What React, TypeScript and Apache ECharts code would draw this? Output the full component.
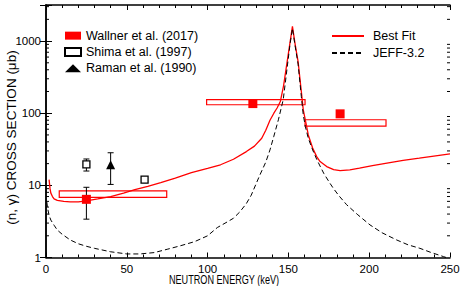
import React, { useEffect, useRef } from 'react';
import * as echarts from 'echarts';

// ---- data ----
const bestFitE = [1.9, 2.5, 3, 4, 5, 7, 11, 15, 20, 25, 32, 40, 48, 55, 63, 71, 80, 90, 100, 108, 116, 124, 129, 133.5, 136, 138.6, 141, 143, 145, 147, 149, 151, 152.5, 154, 156, 158, 159.2, 160.5, 162.3, 165, 167.5, 169.6, 173.7, 178, 182, 188, 194, 202, 211, 221, 231, 240, 250];
const bestFitV = [12.0, 9.0, 7.8, 7.0, 6.5, 6.2, 6.0, 5.9, 5.9, 6.1, 6.5, 7.0, 7.8, 8.7, 9.7, 10.9, 12.6, 15.0, 17.2, 19.3, 23.0, 29.4, 35, 45, 58, 80, 100, 118, 145, 240, 480, 950, 1600, 950, 520, 200, 111, 80, 50, 33, 25, 21.4, 18.2, 16.5, 16.0, 16.4, 17.3, 18.8, 20.4, 22.2, 23.8, 25.5, 27.3];

const jeffE = [0.5, 1, 2, 3, 5, 7, 10, 15, 20, 25, 30, 40, 50, 58, 67, 75, 83, 92, 100, 106, 112, 116, 120, 124, 127, 130, 132.4, 136, 138.6, 141, 143.8, 146.8, 149.5, 151, 152.5, 154, 156, 158, 159.2, 160.5, 162.3, 165, 167.5, 169.6, 172, 175.7, 177.8, 181, 186, 193, 200.5, 208, 217, 224, 231.4, 238, 245.9, 250];
const jeffV = [5.9, 4.8, 3.8, 3.3, 2.8, 2.4, 2.1, 1.75, 1.55, 1.43, 1.34, 1.2, 1.12, 1.12, 1.17, 1.3, 1.45, 1.66, 2.0, 2.6, 3.1, 3.5, 4.3, 5.6, 7.3, 10.5, 14, 21, 31, 48, 81, 154, 480, 900, 1500, 900, 480, 170, 95, 65, 45, 31, 23, 18.5, 14.5, 10.7, 9.1, 7.3, 5.4, 3.9, 2.83, 2.2, 1.75, 1.5, 1.34, 1.18, 1.03, 0.96];

const wallnerE = [25, 128, 182];
const wallnerV = [6.4, 136, 98];
const wallnerErr = [3.0, 0, 0];
const wallnerBinLo = [8.2, 99.4, 160.3];
const wallnerBinHi = [74.7, 160.3, 210.4];
const wallnerBoxLo = [6.8, 131, 66.4];
const wallnerBoxHi = [8.4, 154, 81.2];

const shimaE = [25, 61];
const shimaV = [19.5, 12.0];
const shimaErr = [3.7, 0.8];

const ramanE = [40];
const ramanV = [19.3];
const ramanErr = [9.0];

const yMajorLabels = ['1', '10', '100', '1000'];
const yDecades = [1, 10, 100, 1000];
const yMinorMult = [2, 3, 4, 5, 6, 7, 8, 9];

const FONT = "'Liberation Sans', Arial, Helvetica, sans-serif";

export default function App() {
  const ref = useRef<HTMLDivElement>(null);
  useEffect(() => {
    if (!ref.current) return;
    const chart = echarts.init(ref.current, undefined, { renderer: 'svg' });

    const minorTicks: number[][] = [];
    yDecades.forEach((d) => yMinorMult.forEach((m) => { if (d * m < 3162) minorTicks.push([0, d * m]); }));

    const errData: number[][] = [];
    wallnerE.forEach((e, i) => errData.push([e, wallnerV[i], wallnerErr[i]]));
    shimaE.forEach((e, i) => errData.push([e, shimaV[i], shimaErr[i]]));
    ramanE.forEach((e, i) => errData.push([e, ramanV[i], ramanErr[i]]));

    const boxData = wallnerBinLo.map((lo, i) => [lo, wallnerBoxLo[i], wallnerBinHi[i], wallnerBoxHi[i]]);

    const axisLine = { show: true, lineStyle: { color: '#000', width: 1.5 } };
    const xCommon = {
      type: 'value', min: 0, max: 250, interval: 50,
      axisLine, splitLine: { show: false },
      axisTick: { inside: true, length: 5, lineStyle: { color: '#000', width: 1 } },
      minorTick: { show: true, splitNumber: 5, length: 3, lineStyle: { color: '#000', width: 1 } },
      minorSplitLine: { show: false },
    };
    const yFmt = (v: number) => {
      const l = Math.log10(v);
      const r = Math.round(l);
      if (Math.abs(l - r) < 1e-6 && r >= 0 && r < yMajorLabels.length) return yMajorLabels[r];
      return '';
    };
    const yCommon = {
      type: 'log', logBase: 10, min: 1, max: 3162,
      axisLine, splitLine: { show: false },
      axisTick: { inside: true, length: 6, lineStyle: { color: '#000', width: 1 } },
    };

    const option: any = {
      animation: false,
      grid: { left: 46, right: 13, top: 5, bottom: 28.5, containLabel: false },
      xAxis: [
        { ...xCommon, position: 'bottom', axisLabel: { color: '#000', fontSize: 11.5, fontFamily: FONT, margin: 5 } },
        { ...xCommon, position: 'top', axisLabel: { show: false } },
      ],
      yAxis: [
        { ...yCommon, position: 'left', axisLabel: { color: '#000', fontSize: 11.5, fontFamily: FONT, margin: 5, formatter: yFmt } },
        { ...yCommon, position: 'right', axisLabel: { show: false } },
      ],
      legend: [
        {
          data: [
            { name: 'Wallner et al. (2017)', icon: 'rect' },
            { name: 'Shima et al. (1997)', icon: 'rect' },
            { name: 'Raman et al. (1990)', icon: 'triangle' },
          ],
          orient: 'vertical', left: 64, top: 27.5, padding: 0, itemGap: 0,
          itemWidth: 16, itemHeight: 8, selectedMode: false,
          textStyle: { color: '#000', fontSize: 12.5, fontFamily: FONT, lineHeight: 16.3 },
        },
        {
          data: ['Best Fit', 'JEFF-3.2'],
          orient: 'vertical', left: 331, top: 27.5, padding: 0, itemGap: 0,
          itemWidth: 32, itemHeight: 8, selectedMode: false,
          itemStyle: { color: 'rgba(0,0,0,0)', borderColor: 'rgba(0,0,0,0)', borderWidth: 0, opacity: 0 },
          textStyle: { color: '#000', fontSize: 12.5, fontFamily: FONT, lineHeight: 17, padding: [0, 0, 0, 4] },
        },
      ],
      graphic: [
        {
          type: 'text', x: 224, y: 279.5, scaleX: 0.76,
          style: { text: 'NEUTRON ENERGY (keV)', font: `12px ${FONT}`, fill: '#000', align: 'center', verticalAlign: 'middle' },
        },
        {
          type: 'text', x: 11, y: 137.5, rotation: Math.PI / 2,
          style: { text: '(n, γ) CROSS SECTION (μb)', font: `13.5px ${FONT}`, fill: '#000', align: 'center', verticalAlign: 'middle' },
        },
      ],
      series: [
        {
          type: 'custom', name: 'minorTicks', silent: true, z: 1,
          data: minorTicks,
          renderItem: (params: any, api: any) => {
            const v = api.value(1);
            const l = api.coord([0, v]);
            const r = api.coord([250, v]);
            const st = { stroke: '#000', lineWidth: 1 };
            return {
              type: 'group', children: [
                { type: 'line', shape: { x1: l[0], y1: l[1], x2: l[0] + 3, y2: l[1] }, style: st },
                { type: 'line', shape: { x1: r[0] - 3, y1: r[1], x2: r[0], y2: r[1] }, style: st },
              ],
            };
          },
        },
        {
          type: 'custom', name: 'wallnerBins', silent: true, z: 2,
          data: boxData,
          renderItem: (params: any, api: any) => {
            const p1 = api.coord([api.value(0), api.value(3)]);
            const p2 = api.coord([api.value(2), api.value(1)]);
            return {
              type: 'rect',
              shape: { x: p1[0], y: p1[1], width: p2[0] - p1[0], height: p2[1] - p1[1] },
              style: { fill: 'none', stroke: '#ff0000', lineWidth: 1.2 },
            };
          },
        },
        {
          type: 'line', name: 'Best Fit', data: bestFitE.map((e, i) => [e, bestFitV[i]]),
          symbol: 'none', showSymbol: false, z: 3, clip: true,
          lineStyle: { color: '#ff0000', width: 1.3 }, itemStyle: { color: '#ff0000' },
        },
        {
          type: 'line', name: 'JEFF-3.2', data: jeffE.map((e, i) => [e, jeffV[i]]),
          symbol: 'none', showSymbol: false, z: 3, clip: true,
          lineStyle: { color: '#000', width: 1, type: [5, 3] }, itemStyle: { color: '#000' },
        },
        {
          type: 'custom', name: 'errorBars', silent: true, z: 4,
          data: errData,
          renderItem: (params: any, api: any) => {
            const x = api.value(0), y = api.value(1), e = api.value(2);
            if (!e) return { type: 'group', children: [] };
            const t = api.coord([x, y + e]);
            const b = api.coord([x, y - e]);
            const st = { stroke: '#000', lineWidth: 1 };
            const hw = 3;
            return {
              type: 'group', children: [
                { type: 'line', shape: { x1: t[0], y1: t[1], x2: b[0], y2: b[1] }, style: st },
                { type: 'line', shape: { x1: t[0] - hw, y1: t[1], x2: t[0] + hw, y2: t[1] }, style: st },
                { type: 'line', shape: { x1: b[0] - hw, y1: b[1], x2: b[0] + hw, y2: b[1] }, style: st },
              ],
            };
          },
        },
        {
          type: 'scatter', name: 'Wallner et al. (2017)', symbol: 'rect', symbolSize: 9, z: 5,
          data: wallnerE.map((e, i) => [e, wallnerV[i]]),
          itemStyle: { color: '#ff0000', opacity: 1 },
        },
        {
          type: 'scatter', name: 'Shima et al. (1997)', symbol: 'rect', symbolSize: 7, z: 5,
          data: shimaE.map((e, i) => [e, shimaV[i]]),
          itemStyle: { color: '#fff', borderColor: '#000', borderWidth: 1.3, opacity: 1 },
        },
        {
          type: 'scatter', name: 'Raman et al. (1990)', symbol: 'triangle', symbolSize: 9, z: 5,
          data: ramanE.map((e, i) => [e, ramanV[i]]),
          itemStyle: { color: '#000', opacity: 1 },
        },
      ],
    };
    chart.setOption(option);
    return () => chart.dispose();
  }, []);
  return <div ref={ref} style={{ position: 'fixed', left: 0, top: 0, width: 463, height: 286, background: '#fff' }} />;
}
